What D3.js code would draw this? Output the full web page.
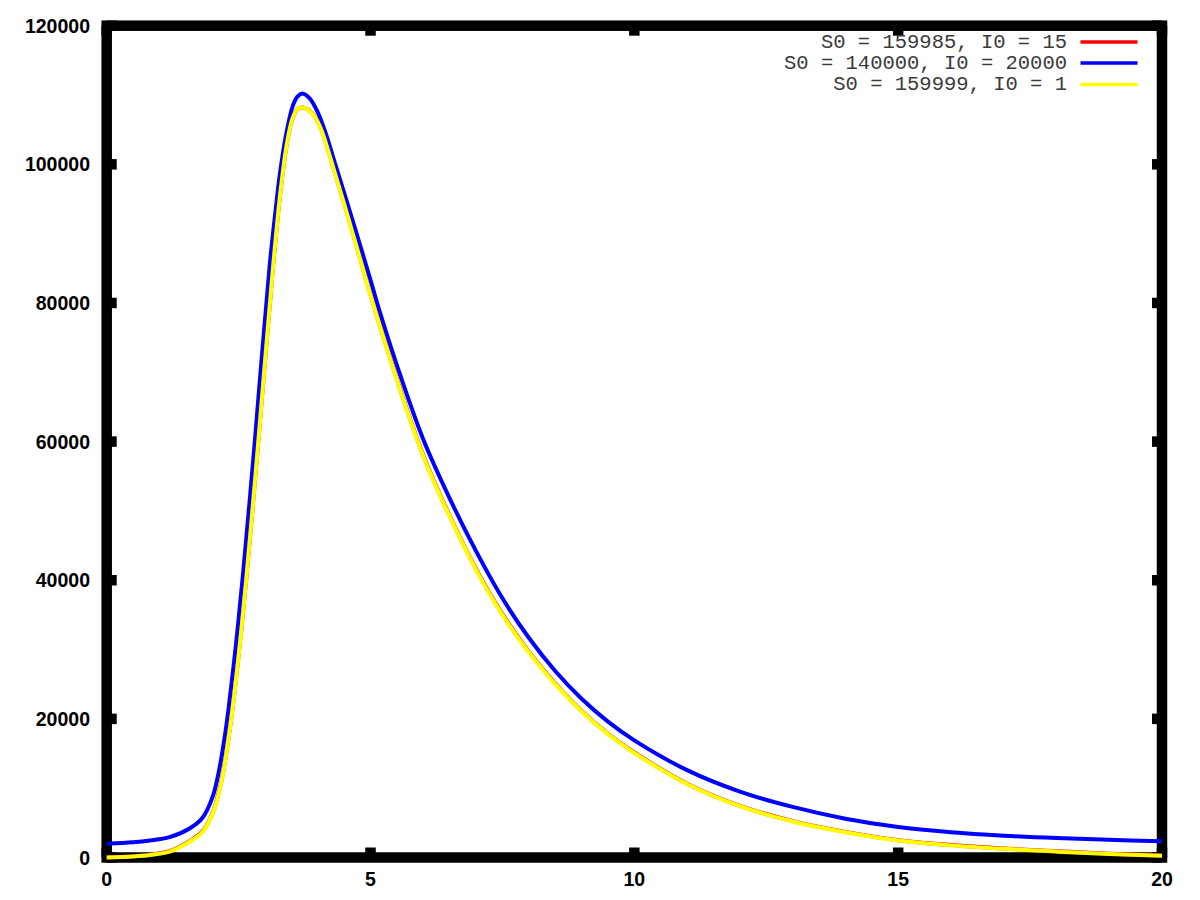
<!DOCTYPE html>
<html>
<head>
<meta charset="utf-8">
<script src="https://cdn.jsdelivr.net/npm/d3@7"></script>
<style>
  html, body { margin: 0; padding: 0; background: #fff; }
  svg { display: block; }
</style>
</head>
<body>
<script>
// ---- data ----
const xTicks = [0, 5, 10, 15, 20];
const yTicks = [0, 20000, 40000, 60000, 80000, 100000, 120000];

const legendLabels = [
  "S0 = 159985, I0 = 15",
  "S0 = 140000, I0 = 20000",
  "S0 = 159999, I0 = 1"
];
const seriesColors = ["#ff0000", "#0000ff", "#ffff00"];

// blue: S0 = 140000, I0 = 20000
const blueT = [0, 0.5, 0.82, 1.19, 1.57, 1.82, 2.01, 2.14, 2.24, 2.31, 2.45, 2.58, 2.77, 2.94, 3.09, 3.2, 3.28, 3.4, 3.53, 3.62, 3.72, 3.85, 4.0, 4.15, 4.3, 4.5, 4.74, 5.0, 5.18, 5.5, 6.0, 6.5, 7.0, 7.5, 8.0, 8.5, 9.0, 9.5, 10.0, 11, 12, 13, 14, 15, 16, 17, 18, 19, 20];
const blueI = [2000, 2200, 2450, 2930, 4190, 5780, 8820, 12980, 17580, 21500, 30740, 40620, 56770, 72240, 85500, 93300, 98500, 104300, 108500, 109800, 110200, 109500, 107500, 104500, 100800, 95900, 89900, 83300, 78600, 71000, 60300, 51800, 44200, 37400, 31700, 26900, 22900, 19600, 16900, 12600, 9500, 7300, 5600, 4400, 3650, 3150, 2800, 2550, 2350];

// yellow: S0 = 159999, I0 = 1
const yellowT = [0, 0.5, 0.82, 1.19, 1.57, 1.82, 2.01, 2.17, 2.29, 2.39, 2.52, 2.64, 2.82, 3.0, 3.15, 3.3, 3.42, 3.52, 3.62, 3.72, 3.9, 4.05, 4.2, 4.35, 4.5, 4.74, 5.0, 5.5, 6.0, 6.5, 7.0, 7.5, 8.0, 8.5, 9.0, 9.5, 10.0, 11, 12, 13, 14, 15, 16, 17, 18, 19, 20];
const yellowI = [0, 150, 360, 840, 2280, 3720, 6420, 10770, 16170, 21770, 30480, 39720, 55200, 71580, 85000, 96500, 103200, 106600, 108000, 108200, 107300, 105300, 101900, 98100, 94300, 88000, 81100, 68900, 57900, 49200, 41500, 35000, 29600, 25000, 21100, 17800, 15100, 10600, 7400, 5200, 3650, 2450, 1750, 1250, 850, 500, 250];

// red: S0 = 159985, I0 = 15 (nearly hidden under yellow)
const redT = [0, 0.5, 0.82, 1.19, 1.57, 1.82, 2.01, 2.17, 2.29, 2.39, 2.52, 2.64, 2.82, 3.0, 3.15, 3.3, 3.42, 3.52, 3.62, 3.72, 3.9, 4.05, 4.2, 4.35, 4.5, 4.74, 5.0, 5.5, 6.0, 6.5, 7.0, 7.5, 8.0, 8.5, 9.0, 9.5, 10.0, 11, 12, 13, 14, 15, 16, 17, 18, 19, 20];
const redI = [20, 180, 400, 900, 2350, 3800, 6500, 10900, 16300, 21900, 30600, 39800, 55300, 71650, 85050, 96550, 103250, 106600, 108000, 108200, 107350, 105350, 102000, 98200, 94400, 88100, 81200, 69000, 58000, 49300, 41600, 35100, 29700, 25100, 21150, 17850, 15150, 10650, 7450, 5250, 3700, 2500, 1800, 1300, 900, 550, 300];

// ---- layout ----
const W = 1200, H = 900;
const pLeft = 106.7, pRight = 1162, pTop = 25.7, pBottom = 857.5;

const svg = d3.select("body").append("svg").attr("width", W).attr("height", H);
svg.append("rect").attr("width", W).attr("height", H).attr("fill", "#fff");

const x = d3.scaleLinear().domain([0, 20]).range([pLeft, pRight]);
const y = d3.scaleLinear().domain([0, 120000]).range([pBottom, pTop]);

// ---- frame and ticks (drawn first; curves go over them) ----
const bw = 10.5;
svg.append("rect")
  .attr("x", pLeft).attr("y", pTop)
  .attr("width", pRight - pLeft).attr("height", pBottom - pTop)
  .attr("fill", "none").attr("stroke", "#000").attr("stroke-width", bw);

const tickLen = 10;
const tg = svg.append("g").attr("stroke", "#000").attr("stroke-width", bw);
xTicks.forEach(v => {
  tg.append("line").attr("x1", x(v)).attr("x2", x(v)).attr("y1", pBottom).attr("y2", pBottom - tickLen);
  tg.append("line").attr("x1", x(v)).attr("x2", x(v)).attr("y1", pTop).attr("y2", pTop + tickLen);
});
yTicks.forEach(v => {
  tg.append("line").attr("y1", y(v)).attr("y2", y(v)).attr("x1", pLeft).attr("x2", pLeft + tickLen);
  tg.append("line").attr("y1", y(v)).attr("y2", y(v)).attr("x1", pRight).attr("x2", pRight - tickLen);
});

// ---- curves ----
const line = d3.line().x(d => x(d[0])).y(d => y(d[1])).curve(d3.curveCatmullRom.alpha(0.5));

const series = [
  { t: redT, v: redI, color: seriesColors[0] },
  { t: blueT, v: blueI, color: seriesColors[1] },
  { t: yellowT, v: yellowI, color: seriesColors[2] }
];

const plot = svg.append("g");
series.forEach(s => {
  plot.append("path")
    .datum(s.t.map((t, i) => [t, s.v[i]]))
    .attr("d", line)
    .attr("fill", "none")
    .attr("stroke", s.color)
    .attr("stroke-width", 4)
    .attr("stroke-linejoin", "round")
    .attr("stroke-linecap", "butt");
});

// ---- tick labels ----
const labelFont = "'Liberation Sans', Arial, Helvetica, sans-serif";
svg.append("g").selectAll("text").data(xTicks).join("text")
  .attr("x", d => x(d)).attr("y", 879)
  .attr("text-anchor", "middle").attr("dominant-baseline", "central")
  .attr("font-family", labelFont).attr("font-weight", "bold").attr("font-size", "19.5px")
  .attr("fill", "#000")
  .text(d => d);

svg.append("g").selectAll("text").data(yTicks).join("text")
  .attr("x", 90).attr("y", d => y(d))
  .attr("text-anchor", "end").attr("dominant-baseline", "central")
  .attr("font-family", labelFont).attr("font-weight", "bold").attr("font-size", "19.5px")
  .attr("fill", "#000")
  .text(d => d);

// ---- legend ----
const legY = [42, 63, 84.5];
const lg = svg.append("g");
legendLabels.forEach((lab, i) => {
  lg.append("text")
    .attr("x", 1067).attr("y", legY[i])
    .attr("text-anchor", "end").attr("dominant-baseline", "central")
    .attr("font-family", "'Liberation Mono', 'Courier New', monospace")
    .attr("font-size", "20.5px").attr("fill", "#3a3a3a")
    .text(lab);
  lg.append("line")
    .attr("x1", 1080.5).attr("x2", 1137.5)
    .attr("y1", legY[i]).attr("y2", legY[i])
    .attr("stroke", seriesColors[i]).attr("stroke-width", 3.5);
});
</script>
</body>
</html>
